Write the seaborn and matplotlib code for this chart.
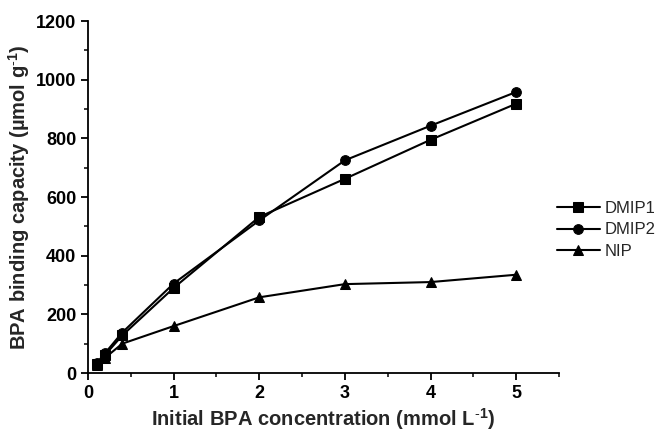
import numpy as np
import pandas as pd
import matplotlib
matplotlib.use("Agg")
import matplotlib.pyplot as plt
import seaborn as sns
from matplotlib.ticker import MultipleLocator

conc = [0.1, 0.2, 0.4, 1, 2, 3, 4, 5]
dmip1 = [30, 62, 128, 290, 532, 662, 795, 918]
dmip2 = [33, 68, 138, 305, 520, 725, 843, 958]
nip = [28, 52, 100, 160, 258, 303, 310, 335]
series_names = ["DMIP1", "DMIP2", "NIP"]

df = pd.DataFrame({
    "conc": conc * 3,
    "value": dmip1 + dmip2 + nip,
    "series": [series_names[0]] * len(conc) + [series_names[1]] * len(conc) + [series_names[2]] * len(conc),
})

sns.set_style("ticks")
plt.rcParams["font.family"] = ["Liberation Sans", "DejaVu Sans"]
plt.rcParams["mathtext.fontset"] = "custom"
plt.rcParams["mathtext.bf"] = "Liberation Sans:bold"
plt.rcParams["mathtext.rm"] = "Liberation Sans"

fig = plt.figure(figsize=(6.68, 4.32), dpi=100)
ax = fig.add_axes([88 / 668, 1 - 373 / 432, (559 - 88) / 668, (373 - 21) / 432])

sns.lineplot(data=df, x="conc", y="value", hue="series", style="series",
             palette=["black"] * 3, markers={"DMIP1": "s", "DMIP2": "o", "NIP": "^"},
             dashes=False, markersize=7, linewidth=1.5, markeredgecolor="black",
             ax=ax)

ax.set_xlim(0, 5.5)
ax.set_ylim(0, 1200)
ax.xaxis.set_major_locator(MultipleLocator(1))
ax.xaxis.set_minor_locator(MultipleLocator(0.5))
ax.yaxis.set_major_locator(MultipleLocator(200))
ax.yaxis.set_minor_locator(MultipleLocator(100))
ax.set_xticks([0, 1, 2, 3, 4, 5])
ax.tick_params(axis="both", which="major", direction="out", length=5, width=1.3,
               labelsize=13, colors="black")
ax.tick_params(axis="both", which="minor", direction="out", length=3, width=1.3)
for lab in ax.get_xticklabels() + ax.get_yticklabels():
    lab.set_fontweight("bold")
for s in ["left", "bottom"]:
    ax.spines[s].set_linewidth(1.3)
    ax.spines[s].set_color("black")
sns.despine(ax=ax)

ax.set_xlabel("Initial BPA concentration (mmol L$^{\\mathbf{\\text{-}1}}$)", fontsize=14.5,
              fontweight="bold", labelpad=3)
ax.set_ylabel("BPA binding capacity (\u00b5mol g$^{\\mathbf{\\text{-}1}}$)", fontsize=14.5,
              fontweight="bold", labelpad=3)

leg = ax.legend(loc="center left", bbox_to_anchor=(550 / 668, 1 - 230 / 432),
                bbox_transform=fig.transFigure, frameon=False, fontsize=12,
                handlelength=2.6, handletextpad=0.3, labelspacing=0.4,
                borderaxespad=0, title=None)

fig.savefig("out.png", dpi=100)
